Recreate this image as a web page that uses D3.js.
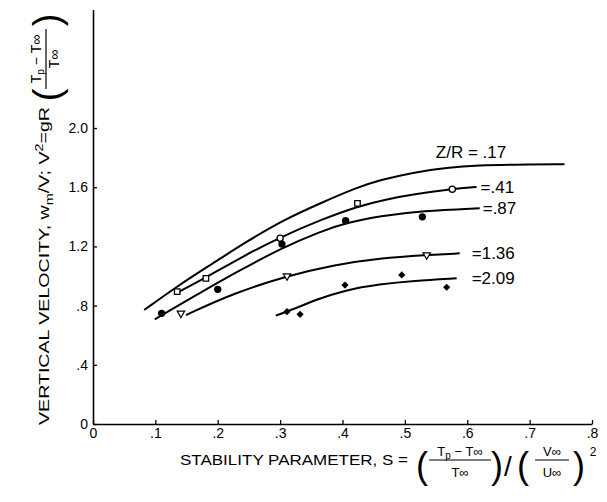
<!DOCTYPE html>
<html><head><meta charset="utf-8">
<script src="https://cdn.jsdelivr.net/npm/d3@7"></script>
<style>
body{margin:0;background:#fff}
svg{display:block}
text{font-family:"Liberation Sans",Arial,sans-serif;fill:#000}
</style>
</head><body>
<svg id="c" width="607" height="502"></svg>
<script>
// ---- data ----
const xTicks=[0,.1,.2,.3,.4,.5,.6,.7,.8];
const xTickLabels=["0",".1",".2",".3",".4",".5",".6",".7",".8"];
const yTicks=[0,.4,.8,1.2,1.6,2.0];
const yTickLabels=["0",".4",".8","1.2","1.6","2.0"];
const curveNames=["Z/R = .17","=.41","=.87","=1.36","=2.09"];
const curve17=[[.082,.770],[.134,.928],[.188,1.074],[.246,1.232],[.305,1.378],[.364,1.491],[.423,1.598],[.46,1.648],[.513,1.700],[.567,1.732],[.62,1.748],[.673,1.753],[.756,1.755]];
const curve41=[[.133,.883],[.181,.989],[.241,1.135],[.30,1.261],[.364,1.378],[.424,1.471],[.47,1.518],[.513,1.551],[.576,1.588],[.615,1.602]];
const curve87=[[.099,.707],[.171,.885],[.236,1.04],[.303,1.19],[.364,1.30],[.407,1.36],[.46,1.405],[.528,1.44],[.62,1.457]];
const curve136=[[.149,.736],[.225,.883],[.311,1.0],[.385,1.074],[.46,1.12],[.535,1.142],[.588,1.153]];
const curve209=[[.293,.732],[.33,.79],[.358,.84],[.404,.905],[.46,.945],[.513,.968],[.583,.984]];
const squares41=[[.135,.894],[.181,.984],[.424,1.491]];
const circles41=[[.30,1.255],[.576,1.586]];
const dots87=[[.110,.748],[.200,.910],[.303,1.216],[.405,1.374],[.528,1.40]];
const tri136=[[.141,.748],[.311,1.0],[.535,1.142]];
const dia209=[[.311,.759],[.332,.741],[.404,.939],[.495,1.007],[.567,.924]];

// ---- drawing ----
const svg=d3.select("#c");
const FONT='"Liberation Sans",Arial,sans-serif';
const PFONT='Lato,"Liberation Sans",sans-serif';
const x=d3.scaleLinear().domain([0,.8]).range([93,592]);
const y=d3.scaleLinear().domain([0,2.8]).range([424,424-2.8*148]);

const gx=svg.append("g").attr("transform","translate(0,424)")
  .call(d3.axisBottom(x).tickValues(xTicks).tickFormat((d,i)=>xTickLabels[i])
    .tickSizeInner(-4).tickSizeOuter(0).tickPadding(4));
const gy=svg.append("g").attr("transform","translate(93,0)")
  .call(d3.axisLeft(y).tickValues(yTicks).tickFormat((d,i)=>yTickLabels[i])
    .tickSizeInner(-4).tickSizeOuter(0).tickPadding(5));
[gx,gy].forEach(g=>{
  g.attr("font-family",FONT).attr("font-size",14);
  g.select(".domain").attr("stroke","#000").attr("stroke-width",1.6);
  g.selectAll(".tick line").attr("stroke","#000").attr("stroke-width",1.3);
  g.selectAll(".tick text").attr("fill","#000");
});

const line=d3.line().x(d=>x(d[0])).y(d=>y(d[1])).curve(d3.curveBasis);
const curves=[curve17,curve41,curve87,curve136,curve209];
svg.append("g").selectAll("path").data(curves).join("path")
  .attr("d",line).attr("fill","none").attr("stroke","#000").attr("stroke-width",2);

// markers
const sym=(type,size)=>d3.symbol().type(type).size(size)();
svg.append("g").selectAll("path").data(squares41).join("path")
  .attr("transform",d=>`translate(${x(d[0])},${y(d[1])})`).attr("d",sym(d3.symbolSquare,30))
  .attr("fill","#fff").attr("stroke","#000").attr("stroke-width",1.3);
svg.append("g").selectAll("path").data(circles41).join("path")
  .attr("transform",d=>`translate(${x(d[0])},${y(d[1])})`).attr("d",sym(d3.symbolCircle,30))
  .attr("fill","#fff").attr("stroke","#000").attr("stroke-width",1.3);
svg.append("g").selectAll("path").data(dots87).join("path")
  .attr("transform",d=>`translate(${x(d[0])},${y(d[1])})`).attr("d",sym(d3.symbolCircle,42))
  .attr("fill","#000");
svg.append("g").selectAll("path").data(tri136).join("path")
  .attr("transform",d=>`translate(${x(d[0])},${y(d[1])}) rotate(180)`).attr("d",sym(d3.symbolTriangle,24))
  .attr("fill","#fff").attr("stroke","#000").attr("stroke-width",1.2);
svg.append("g").selectAll("path").data(dia209).join("path")
  .attr("transform",d=>`translate(${x(d[0])},${y(d[1])}) rotate(45)`).attr("d",sym(d3.symbolSquare,26))
  .attr("fill","#000");

// curve labels
const lastOf=c=>c[c.length-1];
const labelDx=[0,4,3,12,15];
curveNames.forEach((n,i)=>{
  const e=lastOf(curves[i]);
  if(i===0){
    svg.append("text").attr("x",x(0.606)).attr("y",y(e[1])-6)
      .attr("text-anchor","middle").attr("font-size",17).text(n);
  } else {
    svg.append("text").attr("x",x(e[0])+labelDx[i]).attr("y",y(e[1])+6)
      .attr("font-size",17).text(n);
  }
});

// helpers for formula parts
function frac(g,cx,num,den,barW,yNum,yBar,yDen,fs){
  g.append("text").attr("x",cx).attr("y",yNum).attr("text-anchor","middle").attr("font-size",fs).html(num);
  g.append("line").attr("x1",cx-barW/2).attr("x2",cx+barW/2).attr("y1",yBar).attr("y2",yBar).attr("stroke","#000").attr("stroke-width",1.2);
  g.append("text").attr("x",cx).attr("y",yDen).attr("text-anchor","middle").attr("font-size",fs).html(den);
}
const paren=(g,px,py,ch,fs)=>g.append("text").attr("x",px).attr("y",py).attr("font-size",fs)
  .attr("text-anchor","middle").attr("font-family",PFONT).attr("font-weight","300").text(ch);

// x axis title
const xt=svg.append("g").attr("font-size",15);
xt.append("text").attr("x",180).attr("y",465).attr("textLength",228).attr("lengthAdjust","spacingAndGlyphs")
  .text("STABILITY PARAMETER, S =");
paren(xt,422,478,"(",36);
frac(xt,460,'T<tspan font-size="10" dy="3">p</tspan><tspan dy="-3"> − T∞</tspan>','T∞',62,456,460,477,13);
paren(xt,497,478,")",36);
xt.append("text").attr("x",508).attr("y",476).attr("font-size",28).attr("font-family",PFONT).attr("font-weight","300").attr("text-anchor","middle").text("/");
paren(xt,523,478,"(",36);
frac(xt,552,'V∞','U∞',34,456,460,477,13);
paren(xt,579,478,")",36);
xt.append("text").attr("x",593).attr("y",456).attr("font-size",12).attr("text-anchor","middle").text("2");

// y axis title
const yt=svg.append("g").attr("transform","translate(49,425) rotate(-90)").attr("font-size",15);
yt.append("text").attr("x",0).attr("y",0).attr("textLength",318).attr("lengthAdjust","spacingAndGlyphs")
  .html('VERTICAL VELOCITY, w<tspan font-size="11" dy="4">m</tspan><tspan dy="-4">/V; V</tspan><tspan font-size="11" dy="-6">2</tspan><tspan dy="6">=gR</tspan>');
paren(yt,330,11,"(",38);
frac(yt,366,'T<tspan font-size="10" dy="3">p</tspan><tspan dy="-3"> − T∞</tspan>','T∞',60,-8,-3,10,14);
paren(yt,405,11,")",38);
</script>
</body></html>
